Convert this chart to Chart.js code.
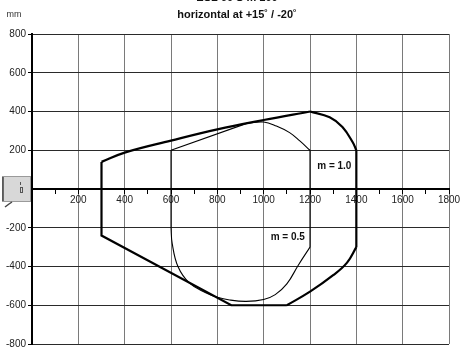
<!DOCTYPE html>
<html>
<head>
<meta charset="utf-8">
<script src="https://cdn.jsdelivr.net/npm/chart.js@4/dist/chart.umd.min.js"></script>
<style>
  html, body { margin: 0; padding: 0; background: #fff; }
  #wrap { width: 468px; height: 352px; }
</style>
</head>
<body>
<div id="wrap"><canvas id="myChart"></canvas></div>
<script>
// outer contour (thick line) - m = 1.0
var outer_x = [300, 400, 600, 800, 1000, 1200, 1285, 1340, 1385, 1400, 1400, 1360, 1300, 1200, 1100, 860, 300, 300];
var outer_y = [140, 188, 250, 308, 356, 400, 370, 320, 240, 200, -300, -380, -445, -530, -600, -600, -240, 140];
// inner contour (thin line) - m = 0.5
var inner_x = [600, 930, 1000, 1055, 1112, 1156, 1200, 1200, 1150, 1100, 1050, 1000, 925, 853, 800, 750, 680, 630, 605, 600, 600];
var inner_y = [200, 340, 346, 325, 291, 248, 200, -300, -392, -490, -545, -570, -580, -573, -559, -535, -486, -400, -280, -200, 200];
// texts
var titulo1 = "ESL 60 S m 100";
var titulo2 = "horizontal at +15\u02DA / -20\u02DA";
var unidad = "mm";
var etiquetas = ["m = 1.0", "m = 0.5"];
var etiquetas_x = [1305, 1104];
var etiquetas_y = [118, -248];

//// tramos: [desde, hasta, curvo]
var tramos_outer = [[0, 5, true], [5, 9, true], [9, 10, false], [10, 14, true], [14, 17, false]];
var tramos_inner = [[0, 1, false], [1, 6, true], [6, 7, false], [7, 19, true], [19, 20, false]];

function puntos(xs, ys, a, b){
	var p = [];
	for(var i = a; i <= b; i++){
		p.push({x: xs[i], y: ys[i]});
	}
	return p;
}

var datasets = [];
function agrega(xs, ys, tramos, ancho){
	for(var i = 0; i < tramos.length; i++){
		datasets.push({
			data: puntos(xs, ys, tramos[i][0], tramos[i][1]),
			showLine: true,
			borderColor: '#000',
			borderWidth: ancho,
			pointRadius: 0,
			tension: tramos[i][2] ? 0.4 : 0,
			fill: false
		});
	}
}
agrega(outer_x, outer_y, tramos_outer, 2.2);
agrega(inner_x, inner_y, tramos_inner, 1.1);

var FUENTE = "'Liberation Sans', Arial, sans-serif";

//// textos y recuadro gris
var extras = {
	id: 'extras',
	afterDraw: function(chart){
		var ctx = chart.ctx;
		var sx = chart.scales.x, sy = chart.scales.y;
		ctx.save();
		ctx.fillStyle = '#111';
		ctx.textAlign = 'center';
		ctx.textBaseline = 'middle';
		ctx.font = 'bold 10px ' + FUENTE;
		for(var i = 0; i < etiquetas.length; i++){
			ctx.fillText(etiquetas[i], sx.getPixelForValue(etiquetas_x[i]), sy.getPixelForValue(etiquetas_y[i]));
		}
		ctx.font = 'bold 11px ' + FUENTE;
		ctx.fillText(titulo1, 237, -2);
		ctx.fillText(titulo2, 237, 15);
		ctx.font = '9px ' + FUENTE;
		ctx.fillStyle = '#333';
		ctx.fillText(unidad, 14, 15);
		// recuadro gris (icono de comentario)
		ctx.fillStyle = '#d8d8d8';
		ctx.fillRect(2, 176, 29, 26);
		ctx.strokeStyle = '#9a9a9a';
		ctx.lineWidth = 1;
		ctx.strokeRect(2.5, 176.5, 28, 25);
		ctx.strokeStyle = '#444';
		ctx.lineWidth = 1.5;
		ctx.beginPath();
		ctx.moveTo(3, 177); ctx.lineTo(3, 201);
		ctx.stroke();
		ctx.beginPath();
		ctx.moveTo(12, 202); ctx.lineTo(9, 204); ctx.lineTo(5, 207);
		ctx.stroke();
		ctx.fillStyle = '#555';
		ctx.fillRect(20, 182, 1, 3);
		ctx.strokeStyle = '#555';
		ctx.lineWidth = 1;
		ctx.strokeRect(20.5, 187.5, 2, 5);
		ctx.restore();
	}
};

var ctx_grafico = document.getElementById('myChart').getContext('2d');

var myChart = new Chart(ctx_grafico, {
	type: 'scatter',
	data: { datasets: datasets },
	options: {
		responsive: true,
		maintainAspectRatio: false,
		animation: false,
		layout: { padding: { top: 34, right: 19, bottom: 8, left: 0 } },
		plugins: {
			legend: { display: false },
			tooltip: { enabled: false },
			title: { display: false }
		},
		scales: {
			x: {
				type: 'linear',
				position: { y: 0 },
				min: 0, max: 1800,
				afterFit: function(scale){ scale.height = 0; },
				ticks: {
					stepSize: 100,
					autoSkip: false,
					maxRotation: 0,
					padding: 1,
					color: '#222',
					font: { family: FUENTE, size: 10 },
					callback: function(v){ return (v % 200 === 0 && v !== 0) ? v : ''; }
				},
				grid: {
					color: function(c){
						var v = c.tick ? c.tick.value : 0;
						return (v % 200 === 0 && v !== 0) ? '#7a7a7a' : 'rgba(0,0,0,0)';
					},
					tickColor: '#000',
					tickLength: 4,
					lineWidth: 1
				},
				border: { color: '#000', width: 2 }
			},
			y: {
				type: 'linear',
				min: -800, max: 800,
				afterFit: function(scale){ scale.width = 32; },
				ticks: {
					stepSize: 200,
					padding: 2,
					color: '#222',
					font: { family: FUENTE, size: 10 },
					callback: function(v){ return v === 0 ? '' : v; }
				},
				grid: {
					color: '#2a2a2a',
					tickColor: '#000',
					tickLength: 4,
					lineWidth: 1
				},
				border: { color: '#000', width: 2 }
			}
		}
	},
	plugins: [extras]
});
</script>
</body>
</html>
